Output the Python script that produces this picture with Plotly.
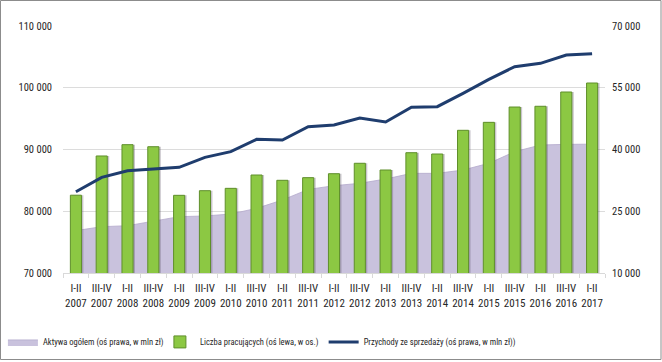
import plotly.graph_objects as go

periods = ["I-II", "III-IV"] * 10 + ["I-II"]
years = ["2007", "2007", "2008", "2008", "2009", "2009", "2010", "2010", "2011", "2011",
         "2012", "2012", "2013", "2013", "2014", "2014", "2015", "2015", "2016", "2016", "2017"]
categories = [f"{p}<br>{y}" for p, y in zip(periods, years)]

# Liczba pracujących (left axis, persons)
employees = [82600, 88950, 90780, 90450, 82580, 83330, 83710, 85870, 85010, 85440,
             86080, 87770, 86680, 89480, 89270, 93110, 94400, 96880, 97000, 99310, 100770]
# Aktywa ogółem (right axis, mln zł)
assets = [20300, 21250, 21490, 22630, 23680, 23850, 24330, 25710, 27730, 30300,
          31210, 31790, 32830, 34210, 34210, 35020, 36650, 39470, 41090, 41250, 41300]
# Przychody ze sprzedaży (right axis, mln zł)
revenue = [29750, 33240, 34850, 35340, 35670, 38100, 39470, 42470, 42310, 45540,
           45950, 47650, 46680, 50250, 50400, 53650, 57050, 60120, 60930, 62960, 63270]

left_ticks = [70000, 80000, 90000, 100000, 110000]
right_ticks = [10000, 25000, 40000, 55000, 70000]

def fmt(v):
    return f"{v:,}".replace(",", " ")

FONT = "Roboto Condensed, DejaVu Sans Condensed, sans-serif"
TXT = "#262626"

fig = go.Figure()

fig.add_trace(go.Scatter(
    x=categories, y=assets, name="Aktywa ogółem (oś prawa, w mln zł)",
    mode="lines", fill="tozeroy", fillcolor="#c9c2dd", legendwidth=112,
    line=dict(color="#b4aacb", width=0.8), yaxis="y"))

fig.add_trace(go.Bar(
    x=categories, y=employees, showlegend=False, hoverinfo="skip",
    marker=dict(color="rgba(90,80,100,0.33)", line=dict(width=0)),
    width=0.43, offset=-0.14, yaxis="y2"))

fig.add_trace(go.Bar(
    x=categories, y=employees, name="Liczba pracujących (oś lewa, w os.)",
    marker=dict(color="#8cc843", line=dict(color="#5f8f2b", width=1)),
    width=0.43, offset=-0.215, yaxis="y2"))

fig.add_trace(go.Scatter(
    x=categories, y=revenue, name="Przychody ze sprzedaży (oś prawa, w mln zł))",
    mode="lines", line=dict(color="#1f3d6e", width=3), yaxis="y3"))

fig.update_layout(
    width=662, height=362,
    margin=dict(l=63, r=57, t=26, b=89, autoexpand=False),
    paper_bgcolor="white", plot_bgcolor="white",
    font=dict(family=FONT, size=11, color=TXT),
    barmode="overlay",
    showlegend=True,
    legend=dict(orientation="h", x=0.367, xanchor="center", y=-0.279, yanchor="middle",
                font=dict(size=8.5, family=FONT, color=TXT), itemwidth=30,
                traceorder="normal", bgcolor="rgba(0,0,0,0)"),
    xaxis=dict(type="category", tickson="boundaries", ticks="outside", ticklen=4,
               tickcolor="#d9d9d9", showline=True, linecolor="#d9d9d9", tickangle=0,
               showgrid=False, tickfont=dict(size=11, family=FONT, color=TXT),
               ticklabelstandoff=5, range=[-0.5, 20.5]),
    yaxis=dict(side="right", range=[10000, 70000], tickvals=right_ticks,
               ticktext=[fmt(v) for v in right_ticks], showgrid=True,
               gridcolor="#dcdcdc", gridwidth=1, zeroline=False, ticks="",
               tickfont=dict(size=10.5, family=FONT, color=TXT), ticklabelstandoff=6),
    yaxis2=dict(overlaying="y", side="left", range=[70000, 110000], tickvals=left_ticks,
                ticktext=[fmt(v) for v in left_ticks], showgrid=False, zeroline=False,
                ticks="", tickfont=dict(size=10.5, family=FONT, color=TXT), ticklabelstandoff=10),
    yaxis3=dict(overlaying="y", side="right", range=[10000, 70000], visible=False,
                showgrid=False),
    shapes=[dict(type="rect", xref="paper", yref="paper",
                 x0=(0.5 - 63) / 542, x1=(661 - 63) / 542,
                 y0=(273 - 359.5) / 247, y1=(273 - 0.5) / 247,
                 line=dict(color="#8c8c8c", width=1), fillcolor="rgba(0,0,0,0)")],
)

fig.write_html("out.html", config={"displayModeBar": False},
               post_script="document.body.style.margin='0';document.body.style.overflow='hidden';")
